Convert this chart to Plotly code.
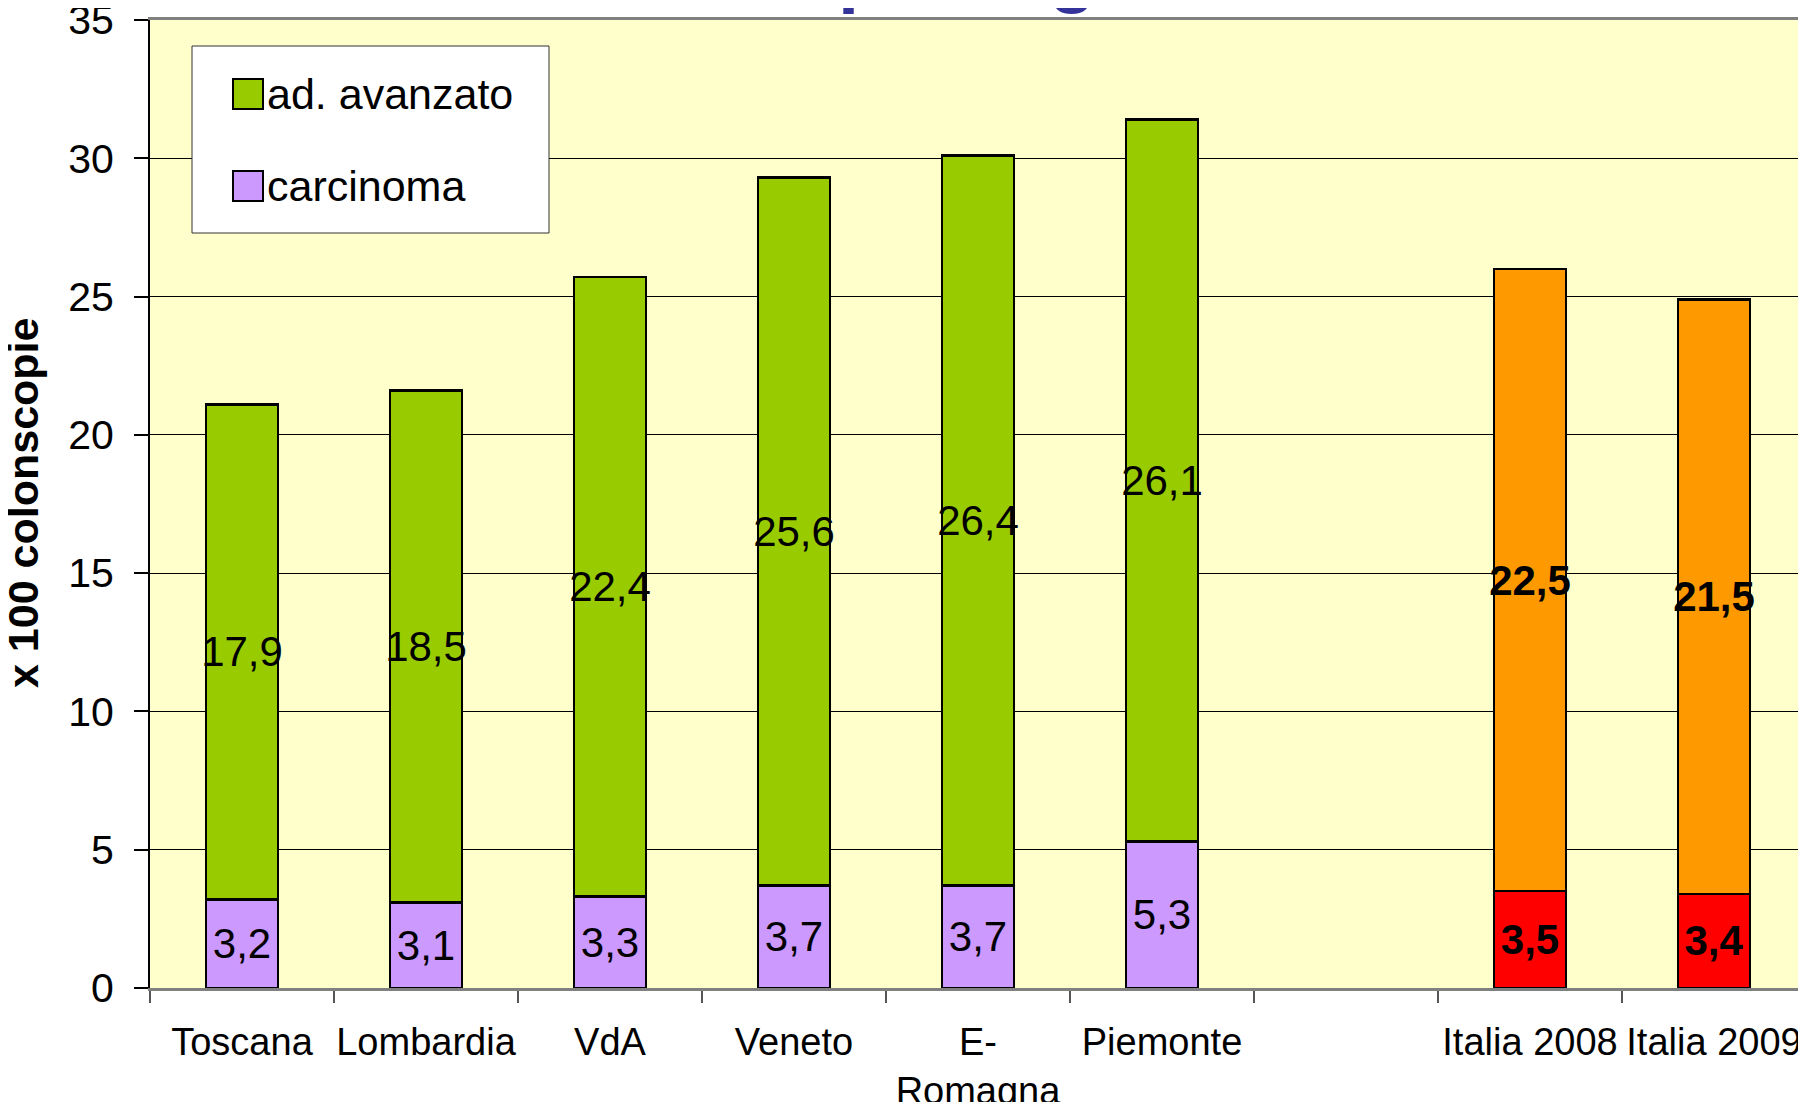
import plotly.graph_objects as go

regioni = ["Toscana", "Lombardia", "VdA", "Veneto", "E-<br>Romagna", "Piemonte",
           " ", "Italia 2008", "Italia 2009"]
carcinoma = [3.2, 3.1, 3.3, 3.7, 3.7, 5.3, None, 3.5, 3.4]
ad_avanzato = [17.9, 18.5, 22.4, 25.6, 26.4, 26.1, None, 22.5, 21.5]
nazionale = [False, False, False, False, False, False, False, True, True]
y_ticks = [0, 5, 10, 15, 20, 25, 30, 35]

FONT = "Liberation Sans, Arial, sans-serif"
# the page body has an 8px margin, so the figure starts at (8, 8)
OFF = 8
W, H = 1806 - OFF, 1102 - OFF
L, R, T, B = 150 - OFF, 0, 20 - OFF, 114


def px_x(x):
    # x in page pixels -> paper coords
    return (x - OFF - L) / (W - L - R)


def px_y(y):
    return (H - B - (y - OFF)) / (H - T - B)


def _label(v, bold):
    if v is None:
        return ""
    s = f"{v:.1f}".replace(".", ",")
    return f"<b>{s}</b>" if bold else s


carc_colors = ["#FF0000" if n else "#CC99FF" for n in nazionale]
adv_colors = ["#FF9900" if n else "#99CC00" for n in nazionale]

fig = go.Figure()

fig.add_trace(go.Bar(
    x=regioni, y=carcinoma, name="carcinoma",
    marker=dict(color=carc_colors, line=dict(color="black", width=2.5)),
    text=[_label(v, n) for v, n in zip(carcinoma, nazionale)],
    textposition="inside", insidetextanchor="middle", constraintext="none",
    textangle=0, insidetextfont=dict(family=FONT, size=42, color="black"),
    width=0.39, showlegend=False,
))
fig.add_trace(go.Bar(
    x=regioni, y=ad_avanzato, name="ad. avanzato",
    marker=dict(color=adv_colors, line=dict(color="black", width=2.5)),
    text=[_label(v, n) for v, n in zip(ad_avanzato, nazionale)],
    textposition="inside", insidetextanchor="middle", constraintext="none",
    textangle=0, insidetextfont=dict(family=FONT, size=42, color="black"),
    width=0.39, showlegend=False,
))

# legend drawn by hand (bigger swatches than plotly's)
shapes = [
    dict(type="rect", xref="paper", yref="paper",
         x0=px_x(192), x1=px_x(549), y0=px_y(233), y1=px_y(46),
         fillcolor="white", line=dict(color="#333333", width=1), layer="above"),
    dict(type="rect", xref="paper", yref="paper",
         x0=px_x(233), x1=px_x(263), y0=px_y(109), y1=px_y(79),
         fillcolor="#99CC00", line=dict(color="black", width=2), layer="above"),
    dict(type="rect", xref="paper", yref="paper",
         x0=px_x(233), x1=px_x(263), y0=px_y(201), y1=px_y(171),
         fillcolor="#CC99FF", line=dict(color="black", width=2), layer="above"),
]
annotations = [
    dict(text="ad. avanzato", xref="paper", yref="paper", x=px_x(265), y=px_y(94),
         xanchor="left", yanchor="middle", showarrow=False,
         font=dict(family=FONT, size=43, color="black")),
    dict(text="carcinoma", xref="paper", yref="paper", x=px_x(265), y=px_y(186),
         xanchor="left", yanchor="middle", showarrow=False,
         font=dict(family=FONT, size=43, color="black")),
    dict(text="<b>x 100 colonscopie</b>", xref="paper", yref="paper",
         x=px_x(23), y=px_y(503), textangle=-90, xanchor="center", yanchor="middle",
         showarrow=False, font=dict(family=FONT, size=43, color="black")),
    # title of the slide, cut off at the top of the picture
    dict(text="<b>per regione</b>", xref="paper", yref="paper",
         x=px_x(836), y=px_y(16), xanchor="left", yanchor="bottom",
         showarrow=False, font=dict(family=FONT, size=76, color="#333399")),
]

fig.update_layout(
    width=W, height=H,
    margin=dict(l=L, r=R, t=T, b=B, autoexpand=False),
    barmode="stack",
    paper_bgcolor="white",
    plot_bgcolor="#FFFFCC",
    font=dict(family=FONT, size=38, color="black"),
    shapes=shapes,
    annotations=annotations,
    showlegend=False,
)
fig.update_xaxes(
    type="category", categoryorder="array", categoryarray=regioni,
    showline=True, linecolor="#808080", linewidth=3, mirror=True,
    ticks="outside", tickson="boundaries", ticklen=12, tickcolor="#555555",
    tickwidth=2, tickangle=0, ticklabelstandoff=18, showgrid=False,
    ticklabeloverflow="allow",
    tickfont=dict(family=FONT, size=38, color="black"),
)
fig.update_yaxes(
    range=[0, 35], tickvals=y_ticks, showline=True, linecolor="black", linewidth=2,
    ticks="outside", ticklen=14, tickcolor="black", tickwidth=2,
    ticklabelstandoff=12, ticklabeloverflow="allow",
    showgrid=True, gridcolor="black", gridwidth=1, zeroline=False,
    tickfont=dict(family=FONT, size=41, color="black"),
)

fig.write_html("out.html")
